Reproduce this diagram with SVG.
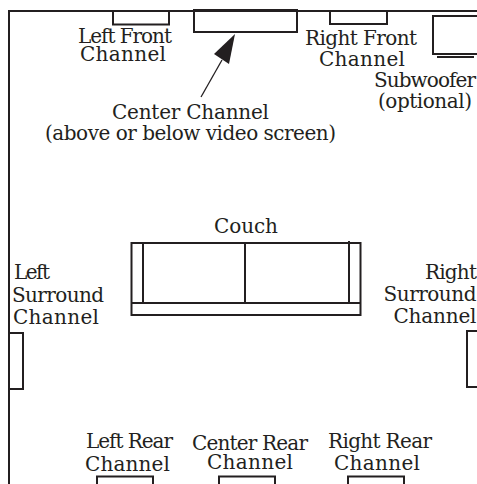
<svg xmlns="http://www.w3.org/2000/svg" width="477" height="484" viewBox="0 0 477 484">
<style>
.s{fill:none;stroke:#231f20;stroke-width:2}
text{font-family:"DejaVu Serif","Liberation Serif",serif;font-size:20px;fill:#231f20;text-anchor:middle}
</style>
<rect width="477" height="484" fill="#fff"/>
<g id="room"><path class="s" d="M9 484V11H477"/></g>
<g id="left-front"><rect class="s" x="113" y="11" width="56" height="13.500"/><text x="125" y="43" textLength="94">Left Front</text><text x="123" y="61" textLength="86">Channel</text></g>
<g id="center"><rect class="s" x="194" y="10" width="103" height="22"/><text x="190.500" y="119" textLength="157">Center Channel</text><text x="190.500" y="140" textLength="291">(above or below video screen)</text></g>
<g id="right-front"><rect class="s" x="330" y="11" width="57" height="13"/><text x="361" y="45" textLength="112">Right Front</text><text x="362" y="65.500" textLength="86">Channel</text></g>
<g id="subwoofer"><path class="s" d="M477 16H433V54H477M437 57H474"/><text x="425" y="87" textLength="102">Subwoofer</text><text x="425" y="108" textLength="94">(optional)</text></g>
<g id="couch"><rect class="s" x="131.500" y="243" width="229" height="72"/><path class="s" d="M131 303H361M143 243V303M245 243V303M349 241V303"/><text x="246" y="233" textLength="64">Couch</text></g>
<g id="left-surround"><rect class="s" x="9" y="333" width="14" height="56"/><text x="32" y="279" textLength="36">Left</text><text x="58" y="302" textLength="92">Surround</text><text x="56" y="324" textLength="86">Channel</text></g>
<g id="right-surround"><path class="s" d="M477 331H467V387H477"/><text x="451" y="279" textLength="52">Right</text><text x="430" y="301" textLength="93">Surround</text><text x="435" y="323" textLength="83">Channel</text></g>
<g id="left-rear"><path class="s" d="M97 484V476.500H153V484"/><text x="129.500" y="448" textLength="87">Left Rear</text><text x="127.500" y="471" textLength="85">Channel</text></g>
<g id="center-rear"><path class="s" d="M219 484V476.500H275V484"/><text x="250" y="450" textLength="116">Center Rear</text><text x="250" y="469" textLength="86">Channel</text></g>
<g id="right-rear"><path class="s" d="M348 484V476.500H404V484"/><text x="380" y="448" textLength="104">Right Rear</text><text x="377" y="470" textLength="86">Channel</text></g>
<g id="connectors"><path d="M201 97L222 60" fill="none" stroke="#231f20" stroke-width="1.300"/><polygon points="235,34 229,64 214,54" fill="#231f20"/></g>
</svg>
